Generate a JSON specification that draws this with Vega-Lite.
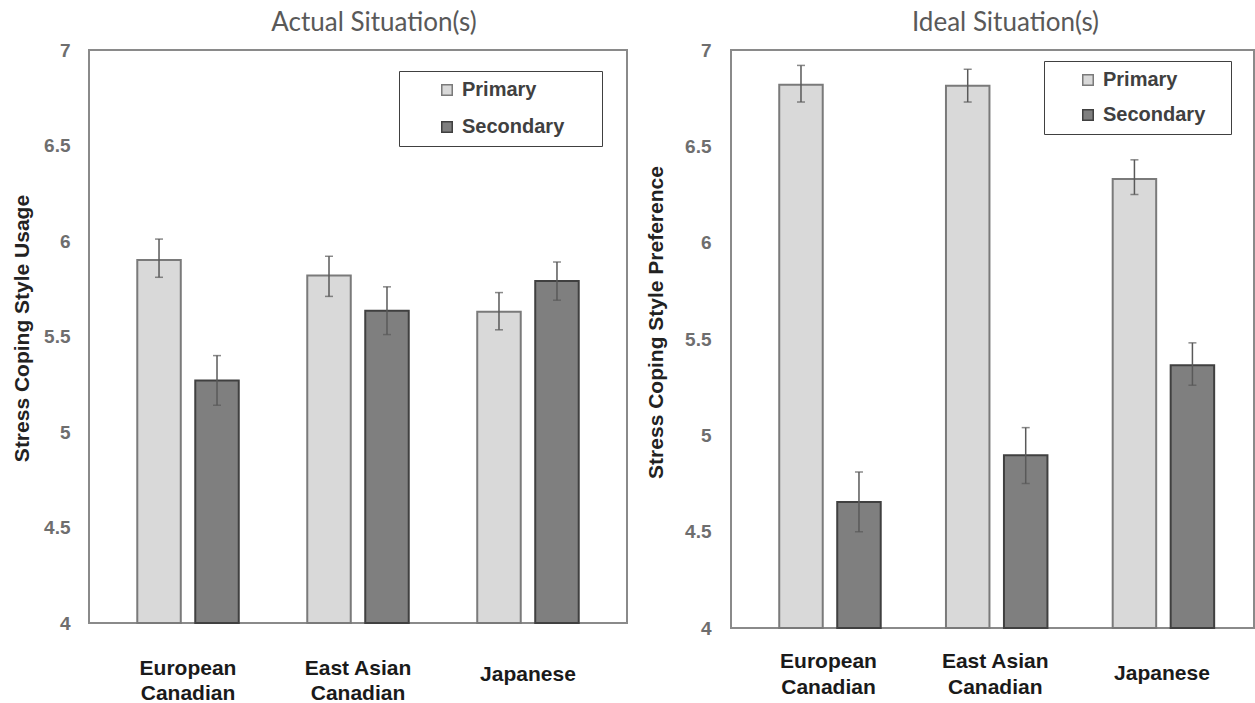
{
  "$schema": "https://vega.github.io/schema/vega-lite/v6.json",
  "padding": {"left": 10, "top": 9, "right": 0, "bottom": 0},
  "background": "white",
  "spacing": 16,
  "config": {
    "view": {"stroke": "#8a8a8a", "strokeWidth": 2},
    "font": "Liberation Sans",
    "axis": {"grid": false, "ticks": false, "tickSize": 0, "domain": false},
    "title": {"font": "Lato", "fontSize": 26, "fontWeight": "normal", "color": "#595959", "anchor": "middle", "offset": 5}
  },
  "resolve": {"scale": {"color": "independent", "stroke": "independent"}},
  "datasets": {
    "actual": [
      {"group": "European Canadian", "type": "Primary", "mean": 5.90, "lo": 5.81, "hi": 6.01},
      {"group": "European Canadian", "type": "Secondary", "mean": 5.27, "lo": 5.14, "hi": 5.40},
      {"group": "East Asian Canadian", "type": "Primary", "mean": 5.82, "lo": 5.71, "hi": 5.92},
      {"group": "East Asian Canadian", "type": "Secondary", "mean": 5.635, "lo": 5.51, "hi": 5.76},
      {"group": "Japanese", "type": "Primary", "mean": 5.63, "lo": 5.535, "hi": 5.73},
      {"group": "Japanese", "type": "Secondary", "mean": 5.79, "lo": 5.69, "hi": 5.89}
    ],
    "ideal": [
      {"group": "European Canadian", "type": "Primary", "mean": 6.82, "lo": 6.73, "hi": 6.92},
      {"group": "European Canadian", "type": "Secondary", "mean": 4.654, "lo": 4.50, "hi": 4.81},
      {"group": "East Asian Canadian", "type": "Primary", "mean": 6.814, "lo": 6.73, "hi": 6.90},
      {"group": "East Asian Canadian", "type": "Secondary", "mean": 4.897, "lo": 4.75, "hi": 5.04},
      {"group": "Japanese", "type": "Primary", "mean": 6.33, "lo": 6.25, "hi": 6.43},
      {"group": "Japanese", "type": "Secondary", "mean": 5.364, "lo": 5.26, "hi": 5.48}
    ]
  },
  "hconcat": [
    {
      "width": 538,
      "height": 573,
      "title": {"text": "Actual Situation(s)", "dx": 16},
      "data": {"name": "actual"},
      "encoding": {
        "x": {
          "field": "group", "type": "nominal",
          "sort": ["European Canadian", "East Asian Canadian", "Japanese"],
          "scale": {"paddingInner": 0.403, "paddingOuter": 0.284, "align": 0.5},
          "axis": {
            "title": null, "labelAngle": 0, "labelFontSize": 21, "labelFontWeight": "bold",
            "labelColor": "#1a1a1a", "labelBaseline": "top", "labelLineHeight": 25,
            "labelPadding": {"condition": {"test": "datum.label == 'Japanese'", "value": 40}, "value": 34},
            "labelExpr": "datum.label == 'European Canadian' ? ['European', 'Canadian'] : datum.label == 'East Asian Canadian' ? ['East Asian', 'Canadian'] : datum.label"
          }
        },
        "xOffset": {"field": "type", "type": "nominal", "sort": ["Primary", "Secondary"], "scale": {"paddingInner": 0.25, "paddingOuter": 0}}
      },
      "layer": [
        {
          "mark": {"type": "bar", "strokeWidth": 2},
          "encoding": {
            "y": {
              "field": "mean", "type": "quantitative",
              "scale": {"domain": [4, 7], "zero": false, "nice": false},
              "axis": {
                "title": "Stress Coping Style Usage", "values": [4, 4.5, 5, 5.5, 6, 6.5, 7], "format": "~g",
                "labelFontSize": 19, "labelFontWeight": "bold", "labelColor": "#6e6e6e", "labelPadding": 19,
                "titleFontSize": 21, "titleFontWeight": "bold", "titleColor": "#222222", "titlePadding": 11,
                "titleY": 278, "minExtent": 46, "maxExtent": 46
              }
            },
            "y2": {"datum": 4},
            "color": {
              "field": "type", "type": "nominal",
              "scale": {"domain": ["Primary", "Secondary"], "range": ["#d9d9d9", "#7f7f7f"]},
              "legend": {
                "title": " ", "titleOrient": "right", "titlePadding": 29, "titleFontSize": 4,
                "orient": "none", "legendX": 310, "legendY": 21,
                "strokeColor": "#404040", "padding": 9, "symbolType": "square", "symbolSize": 110,
                "symbolOffset": 29, "symbolStrokeWidth": 1.5, "labelFontSize": 20, "labelFontWeight": "bold",
                "labelColor": "#404040", "labelOffset": 5, "rowPadding": 17
              }
            },
            "stroke": {
              "field": "type", "type": "nominal",
              "scale": {"domain": ["Primary", "Secondary"], "range": ["#7a7a7a", "#404040"]},
              "legend": {
                "title": " ", "titleOrient": "right", "titlePadding": 29, "titleFontSize": 4,
                "orient": "none", "legendX": 310, "legendY": 21,
                "strokeColor": "#404040", "padding": 9, "symbolType": "square", "symbolSize": 110,
                "symbolOffset": 29, "symbolStrokeWidth": 1.5, "labelFontSize": 20, "labelFontWeight": "bold",
                "labelColor": "#404040", "labelOffset": 5, "rowPadding": 17
              }
            }
          }
        },
        {
          "mark": {"type": "rule", "color": "#595959", "strokeWidth": 1.5},
          "encoding": {"y": {"field": "lo", "type": "quantitative"}, "y2": {"field": "hi"}}
        },
        {
          "mark": {"type": "tick", "orient": "horizontal", "size": 8, "thickness": 1.5, "color": "#595959"},
          "encoding": {"y": {"field": "lo", "type": "quantitative"}}
        },
        {
          "mark": {"type": "tick", "orient": "horizontal", "size": 8, "thickness": 1.5, "color": "#595959"},
          "encoding": {"y": {"field": "hi", "type": "quantitative"}}
        }
      ]
    },
    {
      "width": 523,
      "height": 578,
      "title": {"text": "Ideal Situation(s)", "dx": 13},
      "data": {"name": "ideal"},
      "encoding": {
        "x": {
          "field": "group", "type": "nominal",
          "sort": ["European Canadian", "East Asian Canadian", "Japanese"],
          "scale": {"paddingInner": 0.409, "paddingOuter": 0.273, "align": 0.53},
          "axis": {
            "title": null, "labelAngle": 0, "labelFontSize": 21, "labelFontWeight": "bold",
            "labelColor": "#1a1a1a", "labelBaseline": "top", "labelLineHeight": 26,
            "labelPadding": {"condition": {"test": "datum.label == 'Japanese'", "value": 34}, "value": 22},
            "labelExpr": "datum.label == 'European Canadian' ? ['European', 'Canadian'] : datum.label == 'East Asian Canadian' ? ['East Asian', 'Canadian'] : datum.label"
          }
        },
        "xOffset": {"field": "type", "type": "nominal", "sort": ["Primary", "Secondary"], "scale": {"paddingInner": 0.2252, "paddingOuter": 0}}
      },
      "layer": [
        {
          "mark": {"type": "bar", "strokeWidth": 2},
          "encoding": {
            "y": {
              "field": "mean", "type": "quantitative",
              "scale": {"domain": [4, 7], "zero": false, "nice": false},
              "axis": {
                "title": "Stress Coping Style Preference", "values": [4, 4.5, 5, 5.5, 6, 6.5, 7], "format": "~g",
                "labelFontSize": 19, "labelFontWeight": "bold", "labelColor": "#6e6e6e", "labelPadding": 20,
                "titleFontSize": 21, "titleFontWeight": "bold", "titleColor": "#222222", "titlePadding": 19,
                "titleY": 272, "minExtent": 46, "maxExtent": 46
              }
            },
            "y2": {"datum": 4},
            "color": {
              "field": "type", "type": "nominal",
              "scale": {"domain": ["Primary", "Secondary"], "range": ["#d9d9d9", "#7f7f7f"]},
              "legend": {
                "title": " ", "titleOrient": "right", "titlePadding": 17, "titleFontSize": 4,
                "orient": "none", "legendX": 313, "legendY": 11,
                "strokeColor": "#404040", "padding": 9, "symbolType": "square", "symbolSize": 110,
                "symbolOffset": 25, "symbolStrokeWidth": 1.5, "labelFontSize": 20, "labelFontWeight": "bold",
                "labelColor": "#404040", "labelOffset": 5, "rowPadding": 15
              }
            },
            "stroke": {
              "field": "type", "type": "nominal",
              "scale": {"domain": ["Primary", "Secondary"], "range": ["#7a7a7a", "#404040"]},
              "legend": {
                "title": " ", "titleOrient": "right", "titlePadding": 17, "titleFontSize": 4,
                "orient": "none", "legendX": 313, "legendY": 11,
                "strokeColor": "#404040", "padding": 9, "symbolType": "square", "symbolSize": 110,
                "symbolOffset": 25, "symbolStrokeWidth": 1.5, "labelFontSize": 20, "labelFontWeight": "bold",
                "labelColor": "#404040", "labelOffset": 5, "rowPadding": 15
              }
            }
          }
        },
        {
          "mark": {"type": "rule", "color": "#595959", "strokeWidth": 1.5},
          "encoding": {"y": {"field": "lo", "type": "quantitative"}, "y2": {"field": "hi"}}
        },
        {
          "mark": {"type": "tick", "orient": "horizontal", "size": 8, "thickness": 1.5, "color": "#595959"},
          "encoding": {"y": {"field": "lo", "type": "quantitative"}}
        },
        {
          "mark": {"type": "tick", "orient": "horizontal", "size": 8, "thickness": 1.5, "color": "#595959"},
          "encoding": {"y": {"field": "hi", "type": "quantitative"}}
        }
      ]
    }
  ]
}
